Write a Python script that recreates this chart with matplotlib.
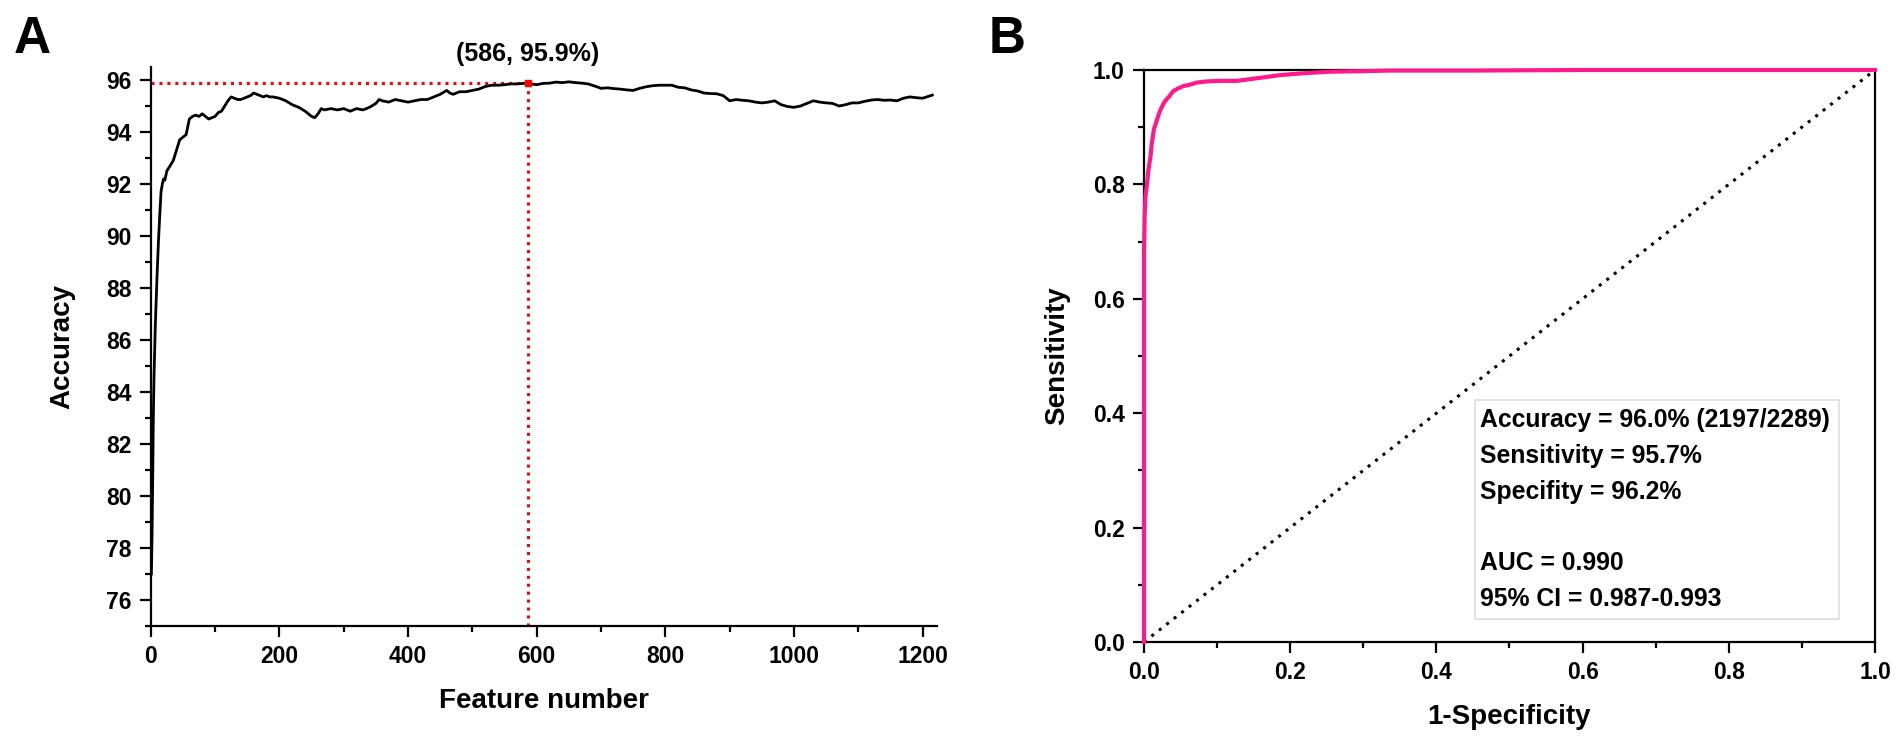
import numpy as np
import matplotlib
matplotlib.use("Agg")
import matplotlib.pyplot as plt
from matplotlib.ticker import MultipleLocator
from matplotlib.patches import Rectangle

plt.rcParams['font.family'] = ['Liberation Sans', 'DejaVu Sans']
plt.rcParams['font.weight'] = 'bold'
plt.rcParams['axes.labelweight'] = 'bold'

# Panel A: accuracy vs number of features
feature_num = [1, 2, 3, 4, 5, 6, 7, 8, 9, 10, 12, 14, 16, 18, 20, 22, 25,
               30, 35, 40, 45, 50, 55, 60, 65, 70, 75, 80, 85, 90, 95, 100,
               105, 110, 115, 120, 125, 130, 135, 140, 145, 150, 155, 160,
               165, 170, 175, 180, 185, 190, 200, 210, 220, 230, 240, 250,
               255, 260, 265, 270, 280, 290, 300, 310, 320, 330, 340, 350,
               355, 360, 370, 380, 390, 400, 410, 420, 430, 440, 450, 460,
               465, 470, 480, 490, 500, 510, 520, 530, 540, 550, 560, 570,
               580, 586, 590, 600, 610, 620, 630, 640, 650, 660, 670, 680,
               690, 700, 710, 720, 730, 740, 750, 760, 770, 780, 790, 800,
               810, 820, 830, 840, 850, 860, 870, 880, 890, 900, 910, 920,
               930, 940, 950, 960, 970, 980, 990, 1000, 1010, 1020, 1030,
               1040, 1050, 1060, 1070, 1080, 1090, 1100, 1110, 1120, 1130,
               1140, 1150, 1160, 1170, 1180, 1190, 1200, 1210, 1215]
accuracy = [77.0, 78.5, 80.5, 83.0, 84.5, 85.5, 86.5, 87.2, 88.0, 88.6,
            89.8, 90.8, 91.7, 92.0, 92.2, 92.15, 92.5,
            92.7, 92.9, 93.3, 93.7, 93.8, 93.9, 94.5, 94.6, 94.65, 94.6,
            94.7, 94.6, 94.5, 94.55, 94.6, 94.75, 94.8, 95.0, 95.2, 95.35,
            95.3, 95.25, 95.25, 95.3, 95.35, 95.4, 95.5, 95.45, 95.4, 95.35,
            95.4, 95.35, 95.35, 95.3, 95.2, 95.05, 94.95, 94.8, 94.6, 94.55,
            94.7, 94.9, 94.85, 94.9, 94.85, 94.9, 94.8, 94.9, 94.85, 94.95,
            95.1, 95.25, 95.2, 95.15, 95.25, 95.2, 95.15, 95.2, 95.25, 95.25,
            95.35, 95.45, 95.6, 95.5, 95.45, 95.55, 95.55, 95.6, 95.65, 95.75,
            95.8, 95.8, 95.82, 95.85, 95.85, 95.87, 95.9, 95.85, 95.82, 95.87,
            95.88, 95.92, 95.9, 95.93, 95.9, 95.88, 95.85, 95.77, 95.68, 95.7,
            95.67, 95.65, 95.62, 95.6, 95.68, 95.74, 95.78, 95.8, 95.8, 95.8,
            95.72, 95.7, 95.62, 95.58, 95.5, 95.48, 95.47, 95.4, 95.2, 95.25,
            95.22, 95.2, 95.15, 95.12, 95.15, 95.2, 95.05, 94.98, 94.95, 95.0,
            95.1, 95.2, 95.15, 95.12, 95.1, 95.0, 95.05, 95.12, 95.12, 95.18,
            95.23, 95.25, 95.22, 95.23, 95.2, 95.3, 95.35, 95.32, 95.3, 95.38,
            95.42]
best_n = 586
best_acc = 95.9

# Panel B: ROC curve
fpr = [0, 0, 0, 0.001, 0.002, 0.004, 0.006, 0.009, 0.0105, 0.0135, 0.015,
       0.019, 0.022, 0.027, 0.031, 0.034, 0.040, 0.047, 0.054, 0.062, 0.072,
       0.086, 0.104, 0.127, 0.145, 0.163, 0.186, 0.205, 0.227, 0.254, 0.300,
       0.336, 0.450, 0.600, 0.800, 1.000]
tpr = [0, 0.40, 0.68, 0.75, 0.78, 0.80, 0.825, 0.85, 0.87, 0.896, 0.902,
       0.918, 0.929, 0.942, 0.949, 0.953, 0.963, 0.968, 0.972, 0.974, 0.978,
       0.980, 0.981, 0.981, 0.984, 0.987, 0.991, 0.993, 0.995, 0.997, 0.998,
       0.999, 0.999, 1.0, 1.0, 1.0]
stats_lines = ["Accuracy = 96.0% (2197/2289)",
               "Sensitivity = 95.7%",
               "Specifity = 96.2%",
               "",
               "AUC = 0.990",
               "95% CI = 0.987-0.993"]

TICK_FS = 16.5
LABEL_FS = 20
fig = plt.figure(figsize=(19.01, 7.43), dpi=100)


def style_ticks(ax):
    ax.tick_params(which='major', direction='out', length=8, width=1.6,
                   labelsize=TICK_FS, pad=6)
    ax.tick_params(which='minor', direction='out', length=4, width=1.6)
    for lab in ax.get_xticklabels() + ax.get_yticklabels():
        lab.set_fontweight('bold')


# ---- Panel A ----
axA = fig.add_axes([0.0793, 0.1575, 0.4135, 0.7523])
axA.plot(feature_num, accuracy, color='black', lw=2.0, zorder=3)
axA.plot([0, best_n], [best_acc, best_acc], color='red', lw=2.2,
         linestyle=(0, (1, 1.6)), zorder=2)
axA.plot([best_n, best_n], [75, best_acc], color='red', lw=2.2,
         linestyle=(0, (1, 1.6)), zorder=2, clip_on=False)
axA.plot([best_n], [best_acc], 's', color='red', ms=5, zorder=4)
axA.annotate(f"({best_n}, {best_acc}%)", xy=(best_n, best_acc),
             xytext=(0, 12), textcoords='offset points', ha='center',
             va='bottom', fontsize=18, fontweight='bold',
             annotation_clip=False)
axA.set_xlim(0, 1222)
axA.set_ylim(75, 96.5)
axA.xaxis.set_major_locator(MultipleLocator(200))
axA.xaxis.set_minor_locator(MultipleLocator(100))
axA.yaxis.set_minor_locator(MultipleLocator(1))
axA.set_yticks(np.arange(76, 97, 2))
for side in ['top', 'right']:
    axA.spines[side].set_visible(False)
for side in ['left', 'bottom']:
    axA.spines[side].set_linewidth(1.6)
style_ticks(axA)
axA.set_xlabel('Feature number', fontsize=LABEL_FS, fontweight='bold',
               labelpad=14)
axA.set_ylabel('Accuracy', fontsize=LABEL_FS, fontweight='bold',
               labelpad=22)

# ---- Panel B ----
axB = fig.add_axes([0.6018, 0.1359, 0.3845, 0.7699])
axB.plot([0, 1], [0, 1], color='black', lw=2.2, linestyle=(0, (1, 2.1)),
         zorder=2)
axB.plot(fpr, tpr, color='#FF1A8C', lw=3.0, zorder=3, clip_on=False)
axB.set_xlim(0, 1)
axB.set_ylim(0, 1)
axB.xaxis.set_major_locator(MultipleLocator(0.2))
axB.xaxis.set_minor_locator(MultipleLocator(0.1))
axB.yaxis.set_major_locator(MultipleLocator(0.2))
axB.yaxis.set_minor_locator(MultipleLocator(0.1))
axB.xaxis.set_major_formatter(plt.FormatStrFormatter('%.1f'))
axB.yaxis.set_major_formatter(plt.FormatStrFormatter('%.1f'))
for side in axB.spines:
    axB.spines[side].set_linewidth(1.6)
style_ticks(axB)
axB.set_xlabel('1-Specificity', fontsize=LABEL_FS, fontweight='bold',
               labelpad=14)
axB.set_ylabel('Sensitivity', fontsize=LABEL_FS, fontweight='bold',
               labelpad=16)

axB.add_patch(Rectangle((0.4528, 0.0402), 0.498, 0.3828,
                        transform=axB.transAxes, fill=False,
                        edgecolor='#dddddd', lw=1.2, zorder=4))
y0 = 0.376
for i, line in enumerate(stats_lines):
    axB.text(0.4597, y0 - i * 0.0626, line, transform=axB.transAxes,
             fontsize=17.8, fontweight='bold', va='baseline', ha='left',
             zorder=5)

# panel letters
fig.text(0.007, 0.928, 'A', fontsize=37, fontweight='bold', va='baseline')
fig.text(0.520, 0.928, 'B', fontsize=37, fontweight='bold', va='baseline')

fig.savefig('out.png', dpi=100)
